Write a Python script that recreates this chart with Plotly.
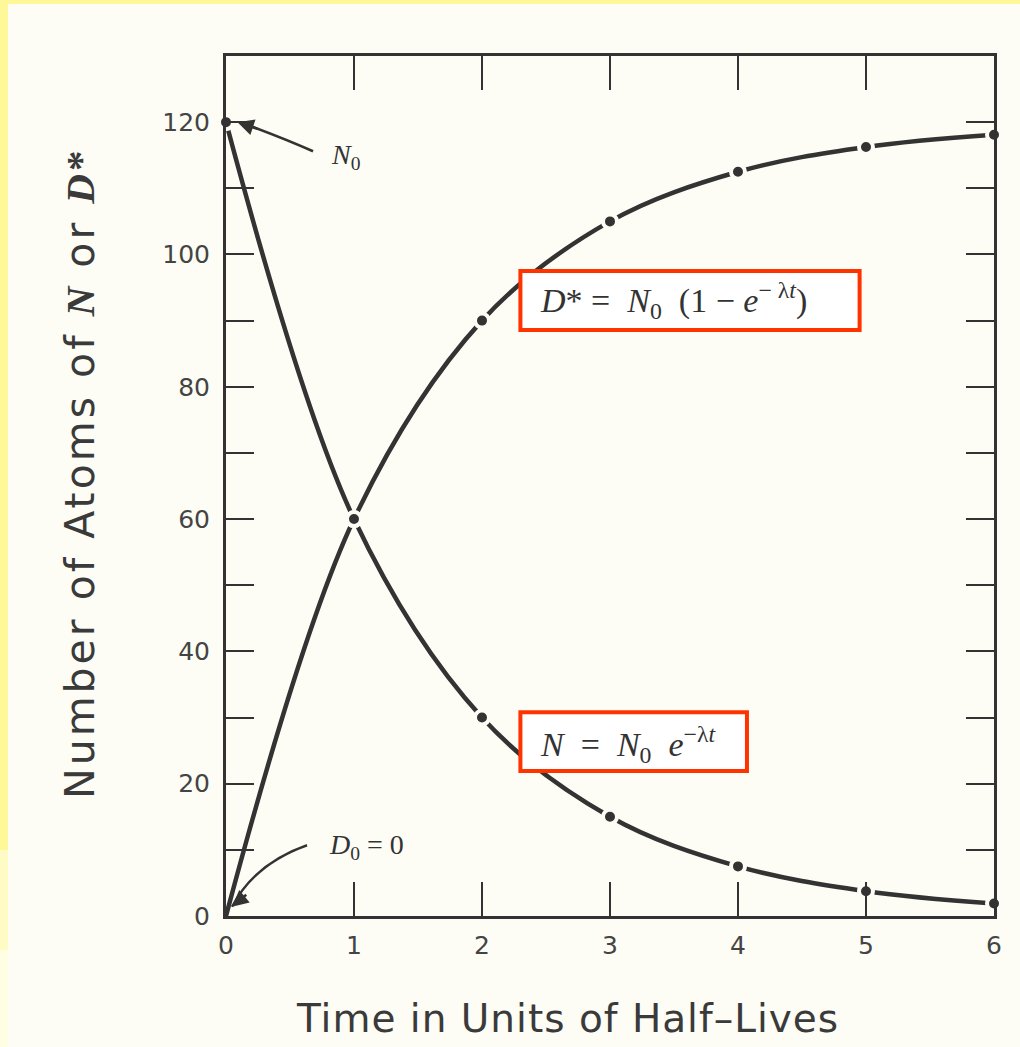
import plotly.graph_objects as go

# Radioactive decay of parent atoms N and growth of daughter atoms D*
half_lives = [0, 1, 2, 3, 4, 5, 6]
parent_atoms = [120, 60, 30, 15, 7.5, 3.75, 1.9]
daughter_atoms = [0, 60, 90, 105, 112.5, 116.25, 118.1]

x_ticks = [0, 1, 2, 3, 4, 5, 6]
y_ticks = [0, 10, 20, 30, 40, 50, 60, 70, 80, 90, 100, 110, 120]
y_tick_text = ["0", "", "20", "", "40", "", "60", "", "80", "", "100", "", "120"]

INK = "#333333"
PAPER = "#FDFDF5"
YELLOW = "#FFF899"
RED = "#FF3300"

W, H = 1020, 1047
L, R, T, B = 226, 26, 56, 131


def paper_x(px):
    return (px - L) / (W - L - R)


def paper_y(py):
    return (H - B - py) / (H - T - B)


fig = go.Figure()

# smooth curves
for ys in (parent_atoms, daughter_atoms):
    fig.add_trace(go.Scatter(
        x=half_lives, y=ys, mode="lines",
        line=dict(color=INK, width=4.5, shape="spline", smoothing=1.0),
        hoverinfo="skip", showlegend=False, cliponaxis=False,
    ))

# plotted points, with a small gap in the line around each dot
dot = dict(color=INK, size=14, line=dict(color=PAPER, width=4))
fig.add_trace(go.Scatter(
    x=half_lives, y=parent_atoms, mode="markers", marker=dot,
    showlegend=False, cliponaxis=False,
))
fig.add_trace(go.Scatter(
    x=half_lives[1:], y=daughter_atoms[1:], mode="markers", marker=dot,
    showlegend=False, cliponaxis=False,
))

shapes = [
    # page edge bands
    dict(type="rect", xref="paper", yref="paper", layer="below",
         x0=paper_x(0), x1=paper_x(W), y0=paper_y(0), y1=paper_y(4),
         fillcolor=YELLOW, line=dict(width=0)),
    dict(type="rect", xref="paper", yref="paper", layer="below",
         x0=paper_x(0), x1=paper_x(8), y0=paper_y(0), y1=paper_y(850),
         fillcolor=YELLOW, line=dict(width=0)),
    dict(type="rect", xref="paper", yref="paper", layer="below",
         x0=paper_x(0), x1=paper_x(8), y0=paper_y(850), y1=paper_y(950),
         fillcolor="#FFFBC4", line=dict(width=0)),
    dict(type="rect", xref="paper", yref="paper", layer="below",
         x0=paper_x(0), x1=paper_x(8), y0=paper_y(950), y1=paper_y(H),
         fillcolor="#FFFDE2", line=dict(width=0)),
    # equation boxes
    dict(type="rect", xref="x", yref="y", layer="above",
         x0=2.30, x1=4.95, y0=88.6, y1=97.5,
         fillcolor="#FFFFFF", line=dict(color=RED, width=4)),
    dict(type="rect", xref="x", yref="y", layer="above",
         x0=2.30, x1=4.07, y0=21.9, y1=30.8,
         fillcolor="#FFFFFF", line=dict(color=RED, width=4)),
    # curved pointers
    dict(type="path", xref="x", yref="y", layer="above",
         path="M 0.68,115.6 Q 0.45,117.6 0.11,120.0",
         line=dict(color=INK, width=2.5)),
    dict(type="path", xref="x", yref="y", layer="above",
         path="M 0.633,10.7 Q 0.223,7.9 0.047,1.4",
         line=dict(color=INK, width=2.5)),
]

serif = "Liberation Serif, Times New Roman, serif"
sans = "DejaVu Sans, Arial, sans-serif"

annotations = [
    # arrowheads of the pointers
    dict(x=0.09, y=120.0, ax=0.26, ay=118.9, xref="x", yref="y",
         axref="x", ayref="y", text="", showarrow=True, arrowhead=2,
         arrowsize=1.3, arrowwidth=2.5, arrowcolor=INK),
    dict(x=0.047, y=1.4, ax=0.17, ay=3.4, xref="x", yref="y",
         axref="x", ayref="y", text="", showarrow=True, arrowhead=2,
         arrowsize=1.3, arrowwidth=2.5, arrowcolor=INK),
    dict(x=0.94, y=114.8, xref="x", yref="y", showarrow=False,
         xanchor="center", yanchor="middle",
         text="<i>N</i><sub>0</sub>", font=dict(family=serif, size=28, color=INK)),
    dict(x=1.10, y=10.5, xref="x", yref="y", showarrow=False,
         xanchor="center", yanchor="middle",
         text="<i>D</i><sub>0</sub> = 0", font=dict(family=serif, size=28, color=INK)),
    dict(x=2.44, y=93.1, xref="x", yref="y", showarrow=False,
         xanchor="left", yanchor="middle",
         text="<i>D</i>* =  <i>N</i><sub>0</sub>  (1 − <i>e</i><sup>− λ<i>t</i></sup>)",
         font=dict(family=serif, size=34, color=INK)),
    dict(x=2.44, y=25.9, xref="x", yref="y", showarrow=False,
         xanchor="left", yanchor="middle",
         text="<i>N</i>  =  <i>N</i><sub>0</sub>  <i>e</i><sup>−λ<i>t</i></sup>",
         font=dict(family=serif, size=34, color=INK)),
    # axis titles
    dict(x=paper_x(567), y=paper_y(1018), xref="paper", yref="paper",
         xanchor="center", yanchor="middle", showarrow=False,
         text="<span style='letter-spacing:1px'>Time in Units of Half\u2013Lives</span>",
         font=dict(family=sans, size=39, color="#3a3a3a")),
    dict(x=paper_x(80), y=paper_y(474), xref="paper", yref="paper",
         xanchor="center", yanchor="middle",
         showarrow=False, textangle=-90,
         text=("<span style='letter-spacing:3px'>Number of Atoms of "
               "<span style='font-family:Liberation Serif'><b><i>N</i></b></span>"
               " or "
               "<span style='font-family:Liberation Serif'><b><i>D</i>*</b></span></span>"),
         font=dict(family=sans, size=41, color="#3a3a3a")),
]

fig.update_layout(
    width=W, height=H,
    margin=dict(l=L, r=R, t=T, b=B, autoexpand=False),
    paper_bgcolor=PAPER, plot_bgcolor=PAPER,
    shapes=shapes, annotations=annotations,
    showlegend=False,
)

fig.update_xaxes(
    range=[0, 6], tickvals=x_ticks, ticktext=[str(v) for v in x_ticks],
    ticks="inside", ticklen=34, tickwidth=2, tickcolor=INK,
    showline=True, linewidth=3, linecolor=INK, mirror="ticks",
    showgrid=False, zeroline=False, ticklabelstandoff=5,
    tickfont=dict(family=sans, size=25, color="#444444"),
)
fig.update_yaxes(
    range=[0, 130], tickvals=y_ticks, ticktext=y_tick_text,
    ticks="inside", ticklen=28, tickwidth=2, tickcolor=INK,
    showline=True, linewidth=3, linecolor=INK, mirror="ticks",
    showgrid=False, zeroline=False, ticklabelstandoff=8,
    tickfont=dict(family=sans, size=25, color="#444444"),
)

fig.write_html("out.html")
